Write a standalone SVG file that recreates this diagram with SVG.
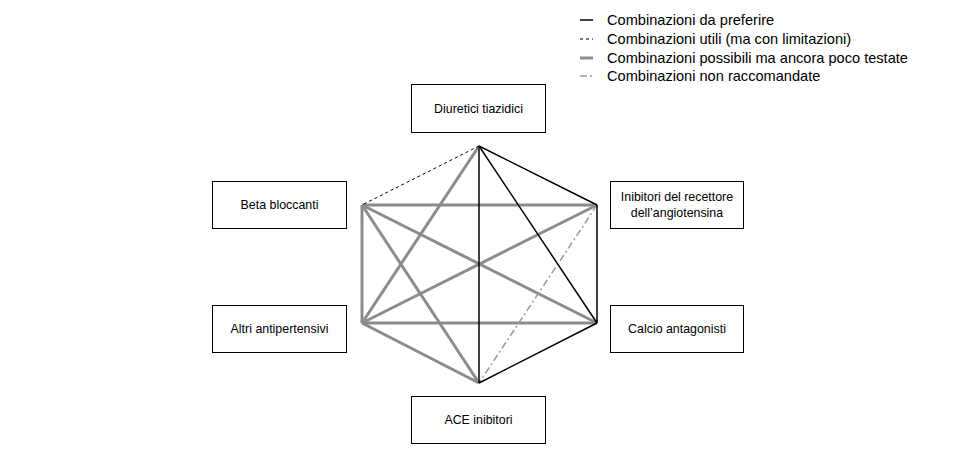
<svg xmlns="http://www.w3.org/2000/svg" width="957" height="465" viewBox="0 0 957 465">
<style>
.box{fill:#fff;stroke:#000;stroke-width:1}
.lbl{font-family:"Liberation Sans",Arial,sans-serif;font-size:12.4px;fill:#000;text-anchor:middle}
.leg{font-family:"Liberation Sans",Arial,sans-serif;font-size:14.6px;fill:#000}
.pref{stroke:#000;stroke-width:1.5;fill:none}
.util{stroke:#000;stroke-width:1;stroke-dasharray:3,3;fill:none}
.poss{stroke:#8c8c8c;stroke-width:3;fill:none}
.nonr{stroke:#9a9a9a;stroke-width:1.5;stroke-dasharray:7,3,2,3;fill:none}
</style>
<rect width="957" height="465" fill="#fff"/>
<g id="legend">
<line class="pref" x1="580" y1="20" x2="593" y2="20"/>
<text class="leg" x="607" y="25">Combinazioni da preferire</text>
<line class="util" x1="580" y1="39" x2="593" y2="39"/>
<text class="leg" x="607" y="44">Combinazioni utili (ma con limitazioni)</text>
<line class="poss" x1="580" y1="58" x2="593" y2="58"/>
<text class="leg" x="607" y="63">Combinazioni possibili ma ancora poco testate</text>
<line class="nonr" x1="580" y1="76" x2="593" y2="76" stroke-dasharray="2,2,6,2"/>
<text class="leg" x="607" y="81">Combinazioni non raccomandate</text>
</g>
<g id="connectors">
<line class="poss" x1="479" y1="146" x2="362" y2="323"/>
<line class="poss" x1="362" y1="205" x2="597" y2="205"/>
<line class="poss" x1="362" y1="205" x2="362" y2="323"/>
<line class="poss" x1="362" y1="205" x2="597" y2="323"/>
<line class="poss" x1="362" y1="205" x2="479" y2="383"/>
<line class="poss" x1="597" y1="205" x2="362" y2="323"/>
<line class="poss" x1="362" y1="323" x2="597" y2="323"/>
<line class="poss" x1="362" y1="323" x2="479" y2="383"/>
<line class="nonr" x1="597" y1="205" x2="479" y2="383"/>
<line class="util" x1="479" y1="146" x2="362" y2="205"/>
<line class="pref" x1="479" y1="146" x2="597" y2="205"/>
<line class="pref" x1="479" y1="146" x2="479" y2="383"/>
<line class="pref" x1="479" y1="146" x2="597" y2="323"/>
<line class="pref" x1="597" y1="205" x2="597" y2="323"/>
<line class="pref" x1="597" y1="323" x2="479" y2="383"/>
</g>
<g id="n-diuretici"><rect class="box" x="411.5" y="84.5" width="134" height="48"/><text class="lbl" x="478.5" y="113">Diuretici tiazidici</text></g>
<g id="n-beta"><rect class="box" x="212.5" y="181.5" width="134" height="47"/><text class="lbl" x="279.5" y="209">Beta bloccanti</text></g>
<g id="n-inibitori"><rect class="box" x="610.5" y="181.5" width="133" height="47"/><text class="lbl" x="677" y="201">Inibitori del recettore</text><text class="lbl" x="677" y="217">dell’angiotensina</text></g>
<g id="n-altri"><rect class="box" x="212.5" y="305.5" width="134" height="47"/><text class="lbl" x="279.5" y="333">Altri antipertensivi</text></g>
<g id="n-calcio"><rect class="box" x="610.5" y="305.5" width="133" height="47"/><text class="lbl" x="677" y="333">Calcio antagonisti</text></g>
<g id="n-ace"><rect class="box" x="411.5" y="396.5" width="134" height="47"/><text class="lbl" x="478.5" y="424">ACE inibitori</text></g>
</svg>
